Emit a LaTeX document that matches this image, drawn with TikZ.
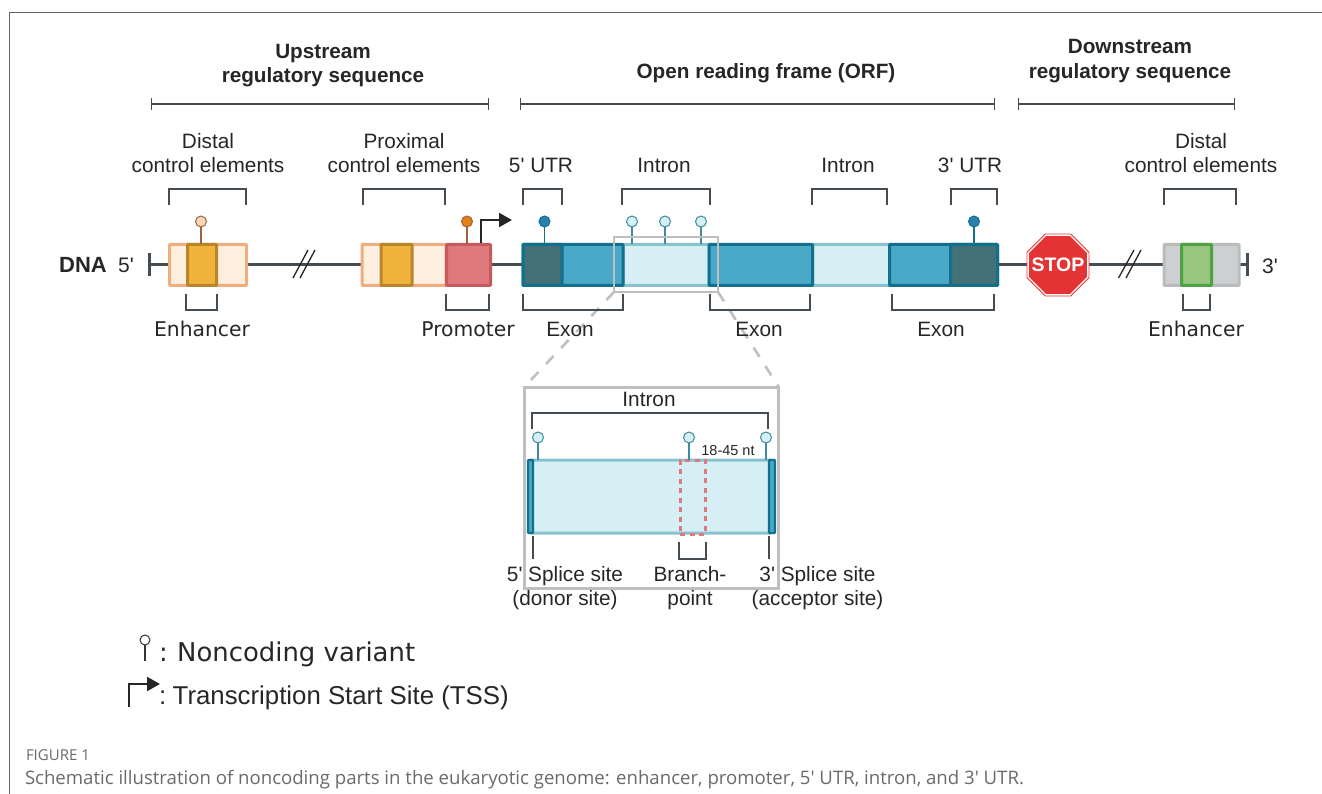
\documentclass[tikz,border=0pt]{standalone}
\usepackage{fontspec}
\setmainfont{Liberation Sans}
\newfontfamily\wideface{DejaVu Sans}
\newfontfamily\capface{Open Sans}
\usepackage{xcolor}
\usetikzlibrary{shapes.geometric, arrows.meta, positioning}
\definecolor{wire}{HTML}{454D52}
\definecolor{exonfill}{HTML}{4AA8C9}
\definecolor{exonline}{HTML}{11708C}
\definecolor{intronfill}{HTML}{D5EFF5}
\definecolor{intronline}{HTML}{88C3CD}
\definecolor{utrfill}{HTML}{437176}
\definecolor{insetgray}{HTML}{BFBFBF}
\definecolor{enhfill}{HTML}{FDF0E0}
\definecolor{enhline}{HTML}{F0AE7F}
\definecolor{corefill}{HTML}{F2B33D}
\definecolor{coreline}{HTML}{B8862B}
\definecolor{promfill}{HTML}{DE7A7D}
\definecolor{promline}{HTML}{C85A5D}
\definecolor{stopred}{HTML}{E33335}
\definecolor{pinline}{HTML}{A0623A}
\definecolor{pinblue}{HTML}{2A80AD}
\definecolor{pinrim}{HTML}{3F8A9F}
\definecolor{capgray}{HTML}{6A6A6A}
\definecolor{silverfill}{HTML}{CDD0D3}
\definecolor{silverline}{HTML}{BBBBBB}
\definecolor{greenfill}{HTML}{98C67E}
\definecolor{greenline}{HTML}{4DA344}

\begin{document}
\begin{tikzpicture} [
        x = 1pt, y = -1pt,
        every node/.style = {inner sep=0pt, outer sep=0pt, text=black!85},
        block/.style = {draw, line width=3pt, rounded corners=0.8pt, minimum height=41pt},
        enhbox/.style = {block, fill=enhfill, draw=enhline},
        enhcore/.style = {block, fill=corefill, draw=coreline},
        exon/.style = {block, fill=exonfill, draw=exonline},
        intron/.style = {block, fill=intronfill, draw=intronline},
        utr/.style = {block, fill=utrfill, draw=exonline},
        variant/.style = {circle, draw, line width=1pt, minimum size=11pt},
        stem/.style = {line width=1.2pt},
        bracket/.style = {draw=wire, line width=2pt},
        span/.style = {draw=wire, line width=1.8pt, {Bar[width=12pt,line width=1.2pt]}-{Bar[width=12pt,line width=1.2pt]}},
        zoomline/.style = {draw=insetgray, line width=2.6pt, dash pattern=on 11pt off 11pt},
        head/.style = {font=\bfseries\fontsize{20.7}{24.5}\selectfont, align=center},
        label/.style = {font=\fontsize{20.8}{24}\selectfont, align=center},
        widelabel/.style = {font=\wideface\fontsize{20.3}{24}\selectfont},
        tss/.style = {draw=black!85, line width=2.2pt, -{Triangle[length=13pt,width=14pt]}}
    ]
    \useasboundingbox (0,0) rectangle (1322,794);

    % frame
    \coordinate (fa) at (9.5,794); \coordinate (fb) at (9.5,12.5); \coordinate (fc) at (1322,12.5);
    \draw[black!60, line width=1pt] (fa) -- (fb) -- (fc);

    % headings
    \node[head] (up)   at (323,65.5) {Upstream\\regulatory sequence};
    \node[head] (orf)  at (766,73)   {Open reading frame (ORF)};
    \node[head] (down) at (1130,61)  {Downstream\\regulatory sequence};
    \coordinate (up1) at (150.5,104);  \coordinate (up2) at (489,104);
    \coordinate (orf1) at (520,104);   \coordinate (orf2) at (995,104);
    \coordinate (dn1) at (1017.5,104); \coordinate (dn2) at (1235,104);
    \draw[span] (up1) -- (up2);
    \draw[span] (orf1) -- (orf2);
    \draw[span] (dn1) -- (dn2);

    % dna line
    \coordinate (end5) at (149.5,265); \coordinate (end3) at (1247.5,265);
    \draw[draw=wire, line width=3pt] (end5) -- (end3);
    \draw[draw=wire, line width=3.4pt] ([yshift=-11.5pt]end5) -- ([yshift=11.5pt]end5);
    \draw[draw=wire, line width=3.4pt] ([yshift=-11.5pt]end3) -- ([yshift=11.5pt]end3);
    \node[font=\bfseries\fontsize{22}{24}\selectfont] (dna) at (83,265) {DNA};
    \node[font=\fontsize{21}{24}\selectfont] (five) at (126,265) {5\textquotesingle};
    \node[font=\fontsize{21}{24}\selectfont] (three) at (1270,266) {3\textquotesingle};

    % breaks in the line
    \coordinate (s1a) at (293,278);  \coordinate (s1b) at (308,250);
    \coordinate (s2a) at (300,278);  \coordinate (s2b) at (315,250);
    \coordinate (s3a) at (1118.5,278); \coordinate (s3b) at (1134,250);
    \coordinate (s4a) at (1126,278); \coordinate (s4b) at (1141,250);
    \draw[black!85, line width=1.3pt] (s1a) -- (s1b) (s2a) -- (s2b) (s3a) -- (s3b) (s4a) -- (s4b);

    % enhancer, left
    \node[enhbox, minimum width=77pt] (enh1) at (208,265) {};
    \node[enhcore, minimum width=29pt] (core1) at (202,265) {};
    \node[variant, fill=enhfill!60!enhline, draw=pinline] (v1) at (201,221.5) {};
    \draw[stem, pinline] (v1) -- (v1 |- enh1.north);

    % proximal part and promoter
    \node[enhbox, minimum width=84pt] (enh2) at (404,265) {};
    \node[enhcore, minimum width=31pt] (core2) at (396.5,265) {};
    \node[block, fill=promfill, draw=promline, minimum width=44pt] (prom) at (468.5,265) {};
    \node[variant, fill=orange!60!brown, draw=pinline] (v2) at (467,221.5) {};
    \draw[stem, pinline] (v2) -- (v2 |- prom.north);
    \coordinate (tssfoot) at (481,243);
    \coordinate (tsstip) at (512,220);
    \draw[tss] (tssfoot) |- (tsstip);

    % orf blocks
    \node[intron, minimum width=86pt] (in1) at (666,265) {};
    \node[intron, minimum width=77pt] (in2) at (851,265) {};
    \node[exon, left=0pt of in1, minimum width=100pt] (ex1) {};
    \node[utr, anchor=west, minimum width=39pt] (utr5) at (ex1.west) {};
    \node[exon, right=0pt of in1, minimum width=103.5pt] (ex2) {};
    \node[exon, right=0pt of in2, minimum width=108pt] (ex3) {};
    \node[utr, anchor=east, minimum width=47pt] (utr3) at (ex3.east) {};

    \node[variant, fill=pinblue, draw=exonline] (v3) at (544.5,221.5) {};
    \draw[stem, exonline] (v3) -- (v3 |- utr5.north);
    \node[variant, fill=intronfill, draw=pinrim] (v4) at (632,221.5) {};
    \node[variant, fill=intronfill, draw=pinrim] (v5) at (665,221.5) {};
    \node[variant, fill=intronfill, draw=pinrim] (v6) at (701,221.5) {};
    \draw[stem, pinrim] (v4) -- (v4 |- in1.north);
    \draw[stem, pinrim] (v5) -- (v5 |- in1.north);
    \draw[stem, pinrim] (v6) -- (v6 |- in1.north);
    \node[variant, fill=pinblue, draw=exonline] (v7) at (974,221.5) {};
    \draw[stem, exonline] (v7) -- (v7 |- utr3.north);

    % stop sign
    \node[regular polygon, regular polygon sides=8, fill=white, draw=stopred, line width=0.8pt, minimum size=67pt] (stopring) at (1058,265) {};
    \node[regular polygon, regular polygon sides=8, fill=stopred, minimum size=62.5pt] (stopsign) at (1058,265) {};
    \node[text=white, font=\bfseries\fontsize{19.5}{20}\selectfont] (stoplabel) at (1058,265) {STOP};

    % enhancer, right
    \node[block, fill=silverfill, draw=silverline, minimum width=75pt] (enh3) at (1201.5,265) {};
    \node[block, fill=greenfill, draw=greenline, minimum width=30pt] (core3) at (1196.5,265) {};

    % zoom lines and box on the intron
    \node[draw=insetgray, line width=1.8pt, minimum width=104pt, minimum height=55pt] (lens) at (666,264.5) {};
    \node[draw=insetgray, line width=3pt, minimum width=254.5pt, minimum height=201pt] (inset) at (651.5,487.5) {};
    \draw[zoomline] (lens.south west) -- (inset.north west);
    \draw[zoomline] (lens.south east) -- (inset.north east);

    % labels above the line
    \node[label] (dist1) at (208,153) {Distal\\control elements};
    \node[label] (prox)  at (404,153) {Proximal\\control elements};
    \node[label] (utr5t) at (541,165) {5\textquotesingle{} UTR};
    \node[label] (in1t)  at (664,165) {Intron};
    \node[label] (in2t)  at (848,165) {Intron};
    \node[label] (utr3t) at (970,165) {3\textquotesingle{} UTR};
    \node[label] (dist2) at (1201,153) {Distal\\control elements};

    \coordinate (b1a) at (168.5,205);  \coordinate (b1b) at (246,205);
    \coordinate (b2a) at (362.5,205);  \coordinate (b2b) at (444.5,205);
    \coordinate (b3a) at (523,205);    \coordinate (b3b) at (562,205);
    \coordinate (b4a) at (622,205);    \coordinate (b4b) at (709.5,205);
    \coordinate (b5a) at (812,205);    \coordinate (b5b) at (887,205);
    \coordinate (b6a) at (951,205);    \coordinate (b6b) at (997,205);
    \coordinate (b7a) at (1164,205);   \coordinate (b7b) at (1236,205);
    \draw[bracket] (b1a) -- ++(0,-16) -| (b1b);
    \draw[bracket] (b2a) -- ++(0,-16) -| (b2b);
    \draw[bracket] (b3a) -- ++(0,-16) -| (b3b);
    \draw[bracket] (b4a) -- ++(0,-16) -| (b4b);
    \draw[bracket] (b5a) -- ++(0,-16) -| (b5b);
    \draw[bracket] (b6a) -- ++(0,-16) -| (b6b);
    \draw[bracket] (b7a) -- ++(0,-16) -| (b7b);

    % labels below the line
    \node[widelabel] (enh1t) at (202,329) {Enhancer};
    \node[widelabel] (promt) at (468,329) {Promoter};
    \node[label] (ex1t) at (570,329) {Exon};
    \node[label] (ex2t) at (759,329) {Exon};
    \node[label] (ex3t) at (941,329) {Exon};
    \node[widelabel] (enh3t) at (1196,329) {Enhancer};

    \coordinate (c1a) at (186,294);    \coordinate (c1b) at (217,294);
    \coordinate (c2a) at (446,294);    \coordinate (c2b) at (489,294);
    \coordinate (c3a) at (523,294);    \coordinate (c3b) at (622.5,294);
    \coordinate (c4a) at (709.5,294);  \coordinate (c4b) at (810,294);
    \coordinate (c5a) at (891.5,294);  \coordinate (c5b) at (994,294);
    \coordinate (c6a) at (1183,294);   \coordinate (c6b) at (1209.5,294);
    \draw[bracket] (c1a) -- ++(0,16) -| (c1b);
    \draw[bracket] (c2a) -- ++(0,16) -| (c2b);
    \draw[bracket] (c3a) -- ++(0,16) -| (c3b);
    \draw[bracket] (c4a) -- ++(0,16) -| (c4b);
    \draw[bracket] (c5a) -- ++(0,16) -| (c5b);
    \draw[bracket] (c6a) -- ++(0,16) -| (c6b);

    % inset
    \node[label] (int) at (649,399) {Intron};
    \coordinate (d1a) at (532,429); \coordinate (d1b) at (768,429);
    \draw[bracket] (d1a) -- ++(0,-16) -| (d1b);

    \node[intron, minimum width=240pt, minimum height=73pt] (big) at (651,496.5) {};
    \node[exon, minimum width=5pt, minimum height=73pt, line width=2.4pt] (bigl) at (530.5,496.5) {};
    \node[exon, minimum width=6pt, minimum height=73pt, line width=2.4pt] (bigr) at (772,496.5) {};
    \node[draw=promfill, line width=3pt, dash pattern=on 5pt off 4.5pt, minimum width=25pt, minimum height=74pt] (bp) at (692.5,497) {};
    \node[variant, fill=intronfill, draw=pinrim] (v8) at (538,437.5) {};
    \node[variant, fill=intronfill, draw=pinrim] (v9) at (689,437.5) {};
    \node[variant, fill=intronfill, draw=pinrim] (v10) at (766,437.5) {};
    \draw[stem, pinrim] (v8) -- (v8 |- big.north);
    \draw[stem, pinrim] (v9) -- (v9 |- big.north);
    \draw[stem, pinrim] (v10) -- (v10 |- big.north);
    \node[font=\fontsize{14.5}{16}\selectfont] (nt) at (728,451) {18-45 nt};

    \coordinate (e1) at (533,536); \coordinate (e2) at (533,559);
    \coordinate (e3) at (769,536); \coordinate (e4) at (769,559);
    \draw[bracket] (e1) -- (e2);
    \draw[bracket] (e3) -- (e4);
    \coordinate (c7a) at (679,542); \coordinate (c7b) at (706,542);
    \draw[bracket] (c7a) -- ++(0,17) -| (c7b);

    \node[label] (don) at (565,588) {5\textquotesingle{} Splice site\\(donor site)};
    \node[label] (bra) at (690,588) {Branch-\\point};
    \node[label] (acc) at (817.5,588) {3\textquotesingle{} Splice site\\(acceptor site)};

    % key
    \node[circle, draw=black!80, line width=1pt, minimum size=10pt] (keyv) at (145,640) {};
    \coordinate (keyfoot) at (145,661);
    \draw[black!80, line width=1.1pt] (keyv) -- (keyfoot);
    \node[font=\wideface\fontsize{25.9}{28}\selectfont, anchor=west] (keyt) at (159,654.5) {:\hspace{-1.5pt} Noncoding variant};
    \coordinate (keytss) at (129,707); \coordinate (keytip) at (160,684);
    \draw[tss] (keytss) |- (keytip);
    \node[font=\fontsize{25.8}{28}\selectfont, anchor=west] (tsst) at (159,698) {:\hspace{-3pt} Transcription Start Site (TSS)};

    % caption
    \node[font=\capface\fontsize{15}{16}\selectfont, text=capgray, anchor=west] (figno) at (26,755) {FIGURE 1};
    \node[font=\capface\fontsize{18.6}{20}\selectfont, text=capgray, anchor=west] (cap) at (25,780) {Schematic illustration of noncoding parts in the eukaryotic genome: enhancer, promoter, 5\textquotesingle{} UTR, intron, and 3\textquotesingle{} UTR.};
\end{tikzpicture}
\end{document}
